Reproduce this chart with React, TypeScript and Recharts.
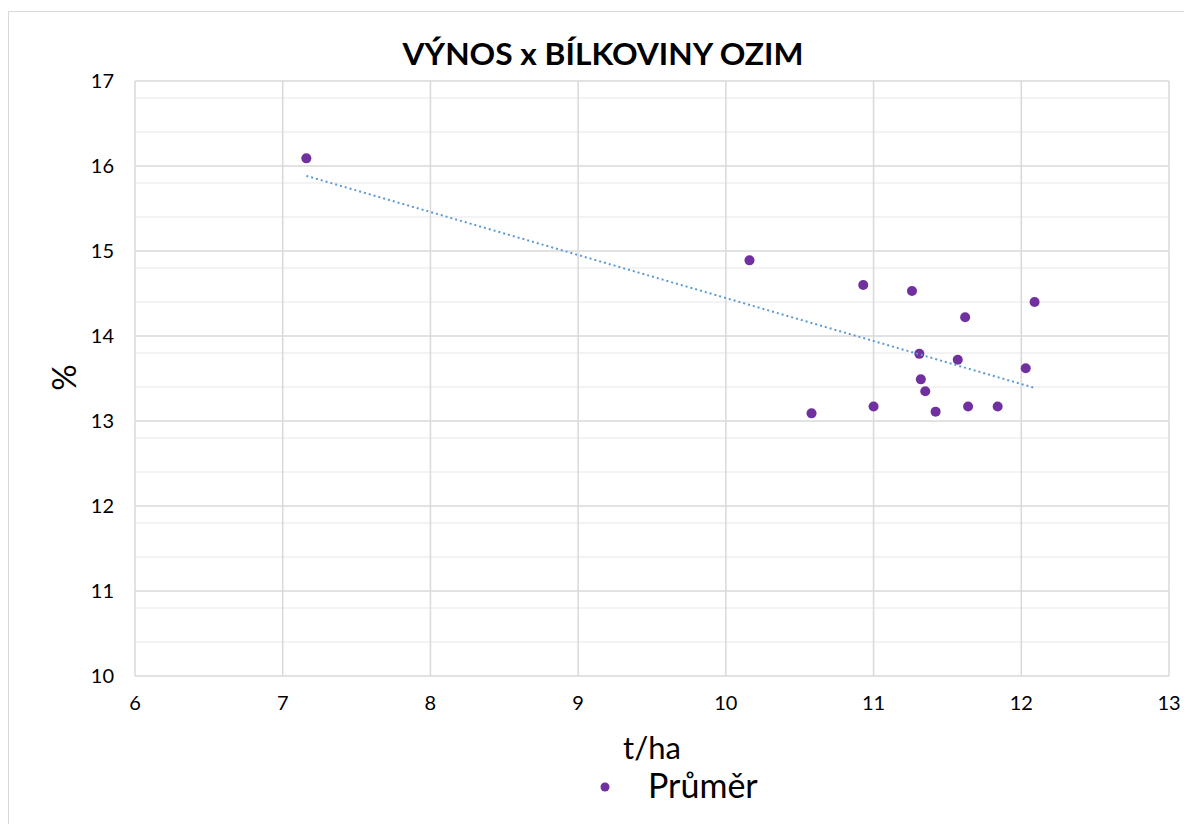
import * as React from 'react';
import { ScatterChart, Scatter, XAxis, YAxis, CartesianGrid, Legend, Label } from 'recharts';

const FONT = 'Lato, "Open Sans", sans-serif';

// výnos (t/ha) a bílkoviny (%) – průměry
const yieldValues = [7.16, 10.16, 10.93, 11.26, 12.09, 11.62, 11.31, 11.57, 12.03, 11.32, 11.35, 10.58, 11.0, 11.42, 11.64, 11.84];
const proteinValues = [16.09, 14.89, 14.6, 14.53, 14.4, 14.22, 13.79, 13.72, 13.62, 13.49, 13.35, 13.09, 13.17, 13.11, 13.17, 13.17];

const xTicks = [6, 7, 8, 9, 10, 11, 12, 13];
const yTicks = [10, 11, 12, 13, 14, 15, 16, 17];

const points = yieldValues.map((x, i) => ({ x, y: proteinValues[i] }));

// lineární trend (nejmenší čtverce)
const n = points.length;
const meanX = yieldValues.reduce((a, b) => a + b, 0) / n;
const meanY = proteinValues.reduce((a, b) => a + b, 0) / n;
const slope =
  points.reduce((s, p) => s + (p.x - meanX) * (p.y - meanY), 0) /
  points.reduce((s, p) => s + (p.x - meanX) ** 2, 0);
const intercept = meanY - slope * meanX;
const xMin = Math.min(...yieldValues);
const xMax = Math.max(...yieldValues);
const trend = [
  { x: xMin, y: intercept + slope * xMin },
  { x: xMax, y: intercept + slope * xMax },
];

// vedlejší mřížka po 0.2
const minorY: number[] = [];
for (let v = yTicks[0]; v < yTicks[yTicks.length - 1]; v++) {
  for (let k = 1; k < 5; k++) minorY.push(+(v + k * 0.2).toFixed(1));
}

const Dot = (props: any) => <circle cx={props.cx} cy={props.cy} r={5} fill="#7030A0" />;

const LegendContent = () => (
  <svg width={260} height={56} style={{ display: 'block', overflow: 'visible' }}>
    <circle cx={16} cy={20} r={4.5} fill="#7030A0" />
    <text x={59} y={31} fontFamily={FONT} fontSize={34} fill="#000">
      Průměr
    </text>
  </svg>
);

export default function App() {
  return (
    <div
      style={{
        position: 'absolute',
        left: 8,
        top: 11,
        width: 1175,
        height: 812,
        borderLeft: '1px solid #d9d9d9',
        borderTop: '1px solid #d9d9d9',
        background: '#fff',
        fontFamily: FONT,
      }}
    >
      <div
        style={{
          position: 'absolute',
          left: 293.5,
          width: 600,
          top: 26,
          textAlign: 'center',
          fontSize: 30.5,
          lineHeight: '30.5px',
          fontWeight: 700,
          color: '#000',
          whiteSpace: 'nowrap',
          transform: 'scaleX(1.04)',
          transformOrigin: 'center',
        }}
      >
        VÝNOS x BÍLKOVINY OZIM
      </div>
      <ScatterChart width={1175} height={812} margin={{ top: 69, right: 15, bottom: 118, left: 0 }}>
        <CartesianGrid horizontalValues={minorY} vertical={false} stroke="#efefef" strokeWidth={1.5} />
        <CartesianGrid horizontalValues={yTicks} verticalValues={xTicks} stroke="#d9d9d9" strokeWidth={1.5} />
        <XAxis
          type="number"
          dataKey="x"
          domain={[6, 13]}
          ticks={xTicks}
          height={30}
          axisLine={false}
          tickLine={false}
          tickSize={0}
          tickMargin={20}
          tick={{ fill: '#000', fontSize: 20, fontFamily: FONT }}
        >
          <Label
            content={({ viewBox }: any) => (
              <text
                x={viewBox.x + viewBox.width / 2}
                y={viewBox.y + 83}
                textAnchor="middle"
                fontSize={31}
                fontFamily={FONT}
                fill="#000"
              >
                t/ha
              </text>
            )}
          />
        </XAxis>
        <YAxis
          type="number"
          dataKey="y"
          domain={[10, 17]}
          ticks={yTicks}
          width={126}
          axisLine={false}
          tickLine={false}
          tickSize={0}
          tickMargin={21}
          tick={{ fill: '#000', fontSize: 20, fontFamily: FONT }}
        >
          <Label
            content={({ viewBox }: any) => {
              const cx = viewBox.x + 54;
              const cy = viewBox.y + viewBox.height / 2 - 1;
              return (
                <text x={cx} y={cy} textAnchor="middle" dominantBaseline="central" fontSize={33} fontFamily={FONT} fill="#000" transform={`rotate(-90, ${cx}, ${cy})`}>
                  %
                </text>
              );
            }}
          />
        </YAxis>
        <Legend
          layout="horizontal"
          verticalAlign="middle"
          align="center"
          content={<LegendContent />}
          wrapperStyle={{ left: 580, top: 755, width: 260, height: 56 }}
        />
        <Scatter name="Průměr" data={points} fill="#7030A0" shape={<Dot />} isAnimationActive={false} />
        <Scatter
          name="trend"
          data={trend}
          legendType="none"
          line={{ stroke: '#5B9BD5', strokeWidth: 2, strokeDasharray: '2 3' }}
          shape={() => <g />}
          isAnimationActive={false}
        />
      </ScatterChart>
    </div>
  );
}
